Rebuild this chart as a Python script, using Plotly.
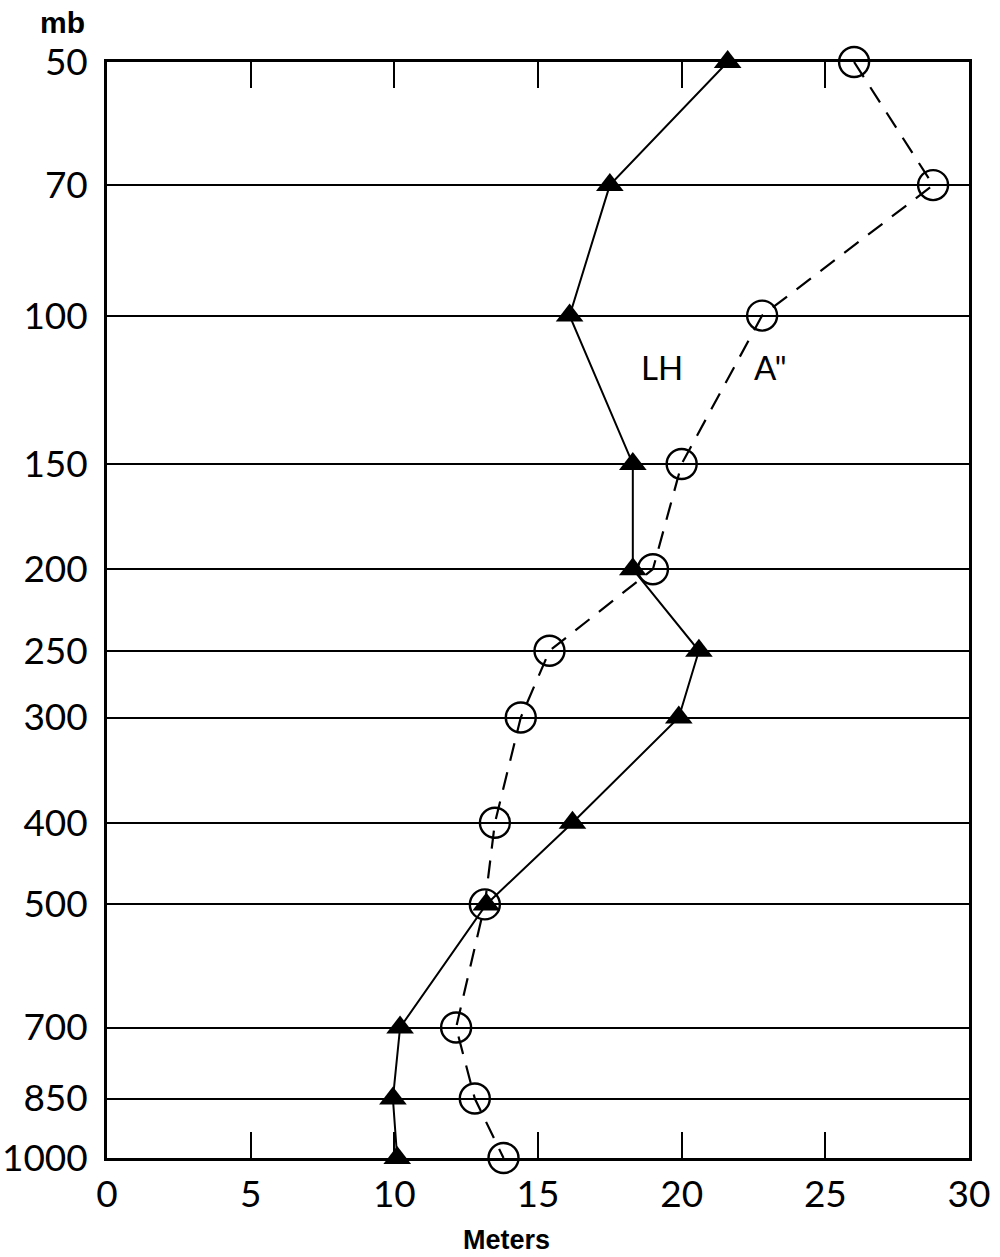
import math
import plotly.graph_objects as go

# Pressure levels (mb) and amplitudes (meters) for the two profiles
pressure = [50, 70, 100, 150, 200, 250, 300, 400, 500, 700, 850, 1000]
lh_meters = [21.6, 17.5, 16.1, 18.3, 18.3, 20.6, 19.9, 16.2, 13.2, 10.2, 9.95, 10.1]
a2_meters = [26.0, 28.75, 22.8, 20.0, 19.0, 15.4, 14.4, 13.5, 13.15, 12.15, 12.8, 13.8]

x_ticks = [0, 5, 10, 15, 20, 25, 30]
y_ticks = pressure

FONT = "Lato"

fig = go.Figure()

fig.add_trace(go.Scatter(
    x=lh_meters, y=pressure, mode="lines+markers", name="LH",
    line=dict(color="black", width=2),
    marker=dict(symbol="triangle-up", size=24, color="black"),
    cliponaxis=False,
))
fig.add_trace(go.Scatter(
    x=a2_meters, y=pressure, mode="lines+markers", name="A''",
    line=dict(color="black", width=2.2, dash="18px,12px"),
    marker=dict(symbol="circle-open", size=30, color="black", line=dict(width=2.4)),
    cliponaxis=False,
))

fig.update_xaxes(
    range=[0, 30], tickvals=x_ticks, ticktext=[str(v) for v in x_ticks],
    ticks="inside", ticklen=26, tickwidth=2.2, tickcolor="black",
    showline=True, linecolor="black", linewidth=2.6, mirror="allticks",
    showgrid=False, zeroline=False, automargin=False,
    tickfont=dict(family=FONT, size=37, color="black"),
    ticklabelstandoff=2,
)
fig.update_yaxes(
    type="log", range=[3, 1.69897], tickvals=y_ticks, ticktext=[str(v) for v in y_ticks],
    ticks="", showline=True, linecolor="black", linewidth=2.6, mirror=True,
    showgrid=True, gridcolor="black", gridwidth=2,
    zeroline=False, automargin=False,
    tickfont=dict(family=FONT, size=37, color="black"),
    ticklabelstandoff=9,
)

# Curve labels (log axis: annotation y is given as log10 of the pressure)
fig.add_annotation(x=19.3, y=math.log10(115), text="LH", showarrow=False,
                   font=dict(family=FONT, size=33, color="black"))
fig.add_annotation(x=23.1, y=math.log10(115), text="A\"", showarrow=False,
                   font=dict(family=FONT, size=33, color="black"))

fig.add_annotation(xref="paper", yref="paper", x=-0.052, y=1.036, xanchor="center", yanchor="middle",
                   text="<b>mb</b>", showarrow=False,
                   font=dict(family="Liberation Sans", size=30, color="black"))
fig.add_annotation(xref="paper", yref="paper", x=0.463, y=-0.075, xanchor="center", yanchor="middle",
                   text="<b>Meters</b>", showarrow=False,
                   font=dict(family="Liberation Sans", size=27, color="black"))

fig.update_layout(
    width=1000, height=1257,
    margin=dict(l=107, r=31, t=62, b=99),
    paper_bgcolor="white", plot_bgcolor="white",
    showlegend=False,
)

fig.write_html("out.html")
